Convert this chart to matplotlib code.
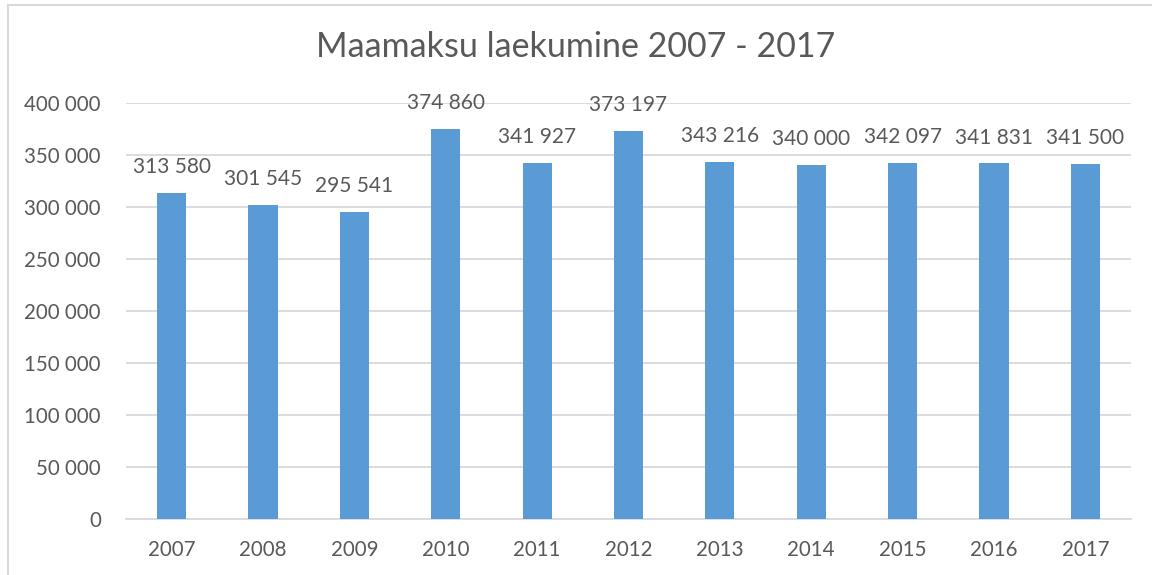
import matplotlib.pyplot as plt
import matplotlib.patches as patches
import numpy as np

# data
years = ['2007', '2008', '2009', '2010', '2011', '2012',
         '2013', '2014', '2015', '2016', '2017']
values = [313580, 301545, 295541, 374860, 341927, 373197,
          343216, 340000, 342097, 341831, 341500]
y_ticks = [0, 50000, 100000, 150000, 200000, 250000, 300000, 350000, 400000]

bar_color = '#5B9BD5'
text_color = '#595959'
grid_color = '#D9D9D9'

plt.rcParams['font.family'] = ['Lato', 'DejaVu Sans']


def fmt(v):
    # space as thousands separator
    return f'{v:,}'.replace(',', ' ')


fig = plt.figure(figsize=(11.52, 5.75), dpi=100)
ax = fig.add_axes([126 / 1152, 1 - 519 / 575, (1131 - 126) / 1152, (519 - 103) / 575])

x = np.arange(len(years))
ax.bar(x, values, width=0.32, color=bar_color, zorder=3)

for xi, v in zip(x, values):
    ax.annotate(fmt(v), (xi, v), xytext=(0, 11.5), textcoords='offset points',
                ha='center', va='bottom', fontsize=15, color=text_color)

ax.set_xlim(-0.5, len(years) - 0.5)
ax.set_ylim(0, 400000)
ax.set_yticks(y_ticks)
ax.set_yticklabels([fmt(t) for t in y_ticks])
ax.set_xticks(x)
ax.set_xticklabels(years)
ax.tick_params(axis='both', length=0, labelsize=14.8, labelcolor=text_color)
ax.tick_params(axis='x', pad=15)
ax.tick_params(axis='y', pad=18)

ax.yaxis.grid(True, color=grid_color, linewidth=1.3, zorder=0)
for s in ['top', 'right', 'left']:
    ax.spines[s].set_visible(False)
ax.spines['bottom'].set_color(grid_color)
ax.spines['bottom'].set_linewidth(1.3)

fig.text(0.5, 1 - 47 / 575, 'Maamaksu laekumine 2007 - 2017', ha='center', va='center',
         fontsize=24.5, color=text_color)

# outer chart border (only top and left visible in the crop)
fig.add_artist(patches.Rectangle((8 / 1152, -0.05), 1.2, 1 - 5 / 575 + 0.05,
                                 transform=fig.transFigure, fill=False,
                                 edgecolor=grid_color, linewidth=1.5))

fig.savefig('out.png', dpi=100)
